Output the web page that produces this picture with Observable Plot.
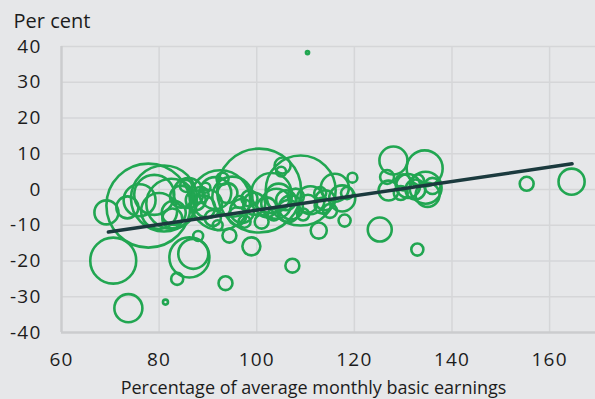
<!DOCTYPE html>
<html>
<head>
<meta charset="utf-8">
<script src="https://cdn.jsdelivr.net/npm/d3@7"></script>
<script src="https://cdn.jsdelivr.net/npm/@observablehq/plot@0.6"></script>
<style>
  html, body { margin: 0; padding: 0; background: #e6e7e9; }
  #chart svg { display: block; font-family: "Open Sans", sans-serif; }
  #chart svg g[aria-label="y-axis tick label"] text,
  #chart svg g[aria-label="x-axis tick label"] text { letter-spacing: 1.2px; }
</style>
</head>
<body>
<div id="chart"></div>
<script>
// x: percentage of average monthly basic earnings
const earningsPct = [69.2, 73.5, 70.6, 73.7, 81.3, 83.7, 86.2, 87.0, 93.6, 110.4,
  77.8, 81.0, 82.5, 80.0, 83.0, 82.7, 79.0, 76.0, 86.0, 87.5, 88.5, 88.0, 85.5,
  92.5, 93.0, 95.0, 94.4, 98.9, 97.0, 90.0, 91.0, 96.5, 94.0, 98.5, 89.5, 92.0, 97.5,
  100.5, 109.0, 105.3, 104.0, 106.0, 107.0, 108.0, 102.0, 101.0, 103.5, 107.3, 109.5, 111.0, 112.7, 105.0, 103.0, 110.5,
  114.0, 116.0, 117.5, 118.0, 119.6, 115.0, 113.0, 118.5,
  125.2, 132.9, 128.0, 134.4, 126.7, 127.0, 134.6, 131.0, 130.0, 132.5, 133.0, 135.0, 129.5, 136.0,
  155.3, 164.5,
  84.5, 89.0, 91.5, 96.0, 99.5, 104.5, 106.5, 113.5];
// y: per cent change
const changePct = [-6.4, -5.0, -19.9, -33.2, -31.5, -25.0, -19.0, -18.0, -26.2, 38.3,
  -4.5, -2.5, -4.0, -6.0, -6.5, -8.1, -1.5, -3.0, -1.0, -3.0, -1.5, -13.0, 1.0,
  -3.0, 3.0, -2.0, -12.9, -15.9, -6.0, -4.0, -8.0, -3.5, -1.0, -2.5, 0.5, -10.0, -9.0,
  -0.3, -0.3, 6.7, -4.0, -3.0, -5.0, -2.0, -5.0, -9.0, -7.0, -21.3, -7.0, -3.0, -11.5, 5.0, -1.0, -4.0,
  -3.0, 0.5, -2.5, -8.7, 3.3, -6.0, -1.0, -1.0,
  -11.2, -16.8, 8.1, 5.9, 3.5, -0.3, 0.5, 1.0, 2.0, 0.0, 2.5, -1.5, -1.0, 1.0,
  1.6, 2.2,
  -2.0, -5.0, -1.0, -7.5, -4.0, -2.0, -6.0, -4.5];
// bubble size: employment weight
const weight = [7.1, 6.0, 26.1, 9.7, 0.31, 1.8, 19.8, 11.1, 2.4, 0.12,
  87.1, 53.8, 30.9, 16.0, 7.1, 4.9, 19.8, 12.6, 11.1, 4.9, 3.2, 1.2, 1.8,
  44.4, 1.8, 19.8, 2.4, 4.0, 7.1, 9.7, 3.2, 1.8, 4.9, 3.2, 1.2, 1.2, 1.8,
  87.1, 60.5, 3.2, 11.1, 4.9, 7.1, 3.2, 4.9, 2.4, 1.8, 2.4, 1.8, 9.7, 3.2, 1.2, 19.8, 4.0,
  4.9, 9.7, 8.4, 1.8, 1.2, 2.4, 1.8, 1.8,
  7.1, 1.8, 9.7, 16.0, 2.4, 4.9, 12.6, 7.1, 3.2, 4.9, 1.8, 7.1, 2.4, 3.2,
  2.4, 8.4,
  6.0, 7.1, 12.6, 4.0, 6.0, 8.4, 6.0, 3.2];
// fitted trend line end points
const trendX = [69.6, 164.6];
const trendY = [-11.9, 7.2];

const xTicks = [60, 80, 100, 120, 140, 160];
const yTicks = [-40, -30, -20, -10, 0, 10, 20, 30, 40];

const bubbles = earningsPct.map((x, i) => ({x, y: changePct[i], w: weight[i]}));
const trend = trendX.map((x, i) => ({x, y: trendY[i]}));

const green = "#21a651";
const grid = "#d5d6d8";
const ink = "#1c1c1c";

const chart = Plot.plot({
  width: 595,
  height: 399,
  marginLeft: 61,
  marginRight: 0,
  marginTop: 46,
  marginBottom: 67,
  style: {background: "#e6e7e9", fontFamily: "'Open Sans', sans-serif", color: ink},
  x: {domain: [60, 169.4]},
  y: {domain: [-40, 40]},
  r: {type: "sqrt", domain: [0, 100], range: [0, 45]},
  marks: [
    Plot.gridX(xTicks.filter(d => d !== 60), {stroke: grid, strokeOpacity: 1, strokeWidth: 1.5}),
    Plot.gridY(yTicks.filter(d => d !== -40), {stroke: grid, strokeOpacity: 1, strokeWidth: 1.5}),
    Plot.ruleX([60], {stroke: "#cbccce", strokeWidth: 2.5}),
    Plot.ruleY([-40], {stroke: "#cbccce", strokeWidth: 2.5}),
    Plot.axisY(yTicks, {tickSize: 0, tickPadding: 20, fontSize: 19, tickFormat: d => String(d), label: null, fill: ink}),
    Plot.axisX(xTicks, {tickSize: 0, tickPadding: 20, fontSize: 19, tickFormat: d => String(d), label: null, fill: ink}),
    Plot.dot(bubbles, {x: "x", y: "y", r: "w", stroke: green, strokeWidth: 2.6, fill: "none"}),
    Plot.line(trend, {x: "x", y: "y", stroke: "#1b3a3e", strokeWidth: 3.5}),
    Plot.text(["Per cent"], {frameAnchor: "top-left", dx: -48, dy: -19, lineAnchor: "bottom", textAnchor: "start", fontSize: 20, fill: ink}),
    Plot.text(["Percentage of average monthly basic earnings"], {frameAnchor: "bottom", dx: -15, dy: 61, lineAnchor: "bottom", fontSize: 18, fill: ink})
  ]
});
document.getElementById("chart").appendChild(chart);
</script>
</body>
</html>
